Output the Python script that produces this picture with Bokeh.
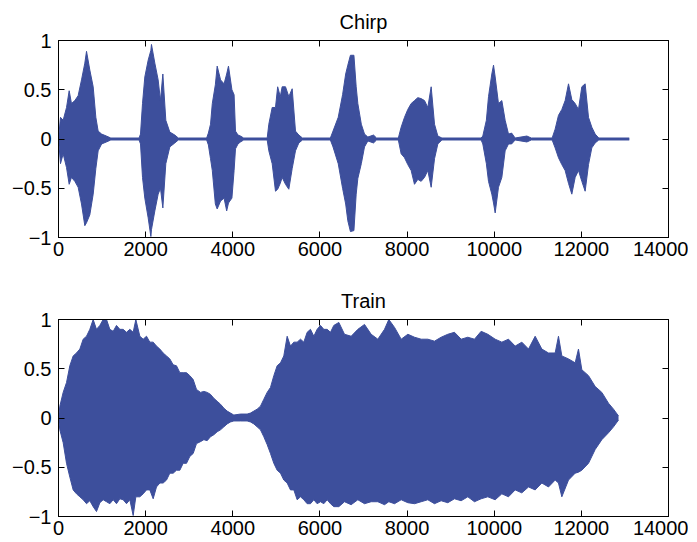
from bokeh.plotting import figure
from bokeh.layouts import column
from bokeh.models import FixedTicker, LinearAxis, Range1d
from bokeh.embed import file_html
from bokeh.resources import INLINE

# ---- data: envelope (upper / lower peak) of each waveform ----
chirp_x = [0, 46, 107, 184, 245, 298, 375, 451, 528, 604, 643, 719, 796, 857, 910, 990, 1100, 1200,
           1850, 1882, 1928, 1981, 2058, 2120, 2134, 2211, 2287, 2340, 2395, 2463, 2555, 2670, 2750,
           3400, 3440, 3489, 3530, 3600, 3642, 3720, 3800, 3860, 3901, 3980, 4030, 4062, 4120, 4177, 4250,
           4790, 4827, 4904, 4980, 5030, 5090, 5133, 5210, 5286, 5363, 5439, 5516, 5600,
           6240, 6300, 6420, 6520, 6591, 6640, 6700, 6780, 6832, 6870, 6950, 7023, 7100, 7230, 7300,
           7800, 7864, 7941, 8017, 8094, 8170, 8247, 8323, 8400, 8476, 8553, 8630, 8706, 8800,
           9700, 9738, 9820, 9869, 9945, 9984, 10022, 10098, 10175, 10251, 10328, 10400, 10480, 10750, 10850,
           11330, 11398, 11475, 11552, 11628, 11705, 11781, 11858, 11934, 12011, 12087, 12164, 12240, 12317,
           12400, 13100]
chirp_upper = [0.0, 0.22, 0.19, 0.32, 0.49, 0.36, 0.39, 0.44, 0.60, 0.77, 0.89, 0.70, 0.53, 0.22, 0.08, 0.05, 0.03, 0.01,
               0.01, 0.05, 0.36, 0.63, 0.80, 0.90, 0.96, 0.77, 0.60, 0.39, 0.66, 0.19, 0.07, 0.04, 0.01,
               0.01, 0.06, 0.15, 0.36, 0.55, 0.74, 0.60, 0.56, 0.66, 0.74, 0.50, 0.45, 0.08, 0.04, 0.03, 0.01,
               0.01, 0.15, 0.32, 0.32, 0.53, 0.43, 0.53, 0.53, 0.43, 0.51, 0.08, 0.04, 0.01,
               0.01, 0.08, 0.22, 0.45, 0.66, 0.75, 0.85, 0.85, 0.53, 0.36, 0.15, 0.05, 0.02, 0.04, 0.01,
               0.01, 0.12, 0.22, 0.30, 0.36, 0.39, 0.42, 0.41, 0.39, 0.32, 0.53, 0.15, 0.03, 0.01,
               0.01, 0.03, 0.19, 0.43, 0.66, 0.75, 0.63, 0.36, 0.39, 0.19, 0.05, 0.06, 0.01, 0.03, 0.01,
               0.01, 0.10, 0.24, 0.30, 0.39, 0.56, 0.40, 0.36, 0.30, 0.53, 0.56, 0.22, 0.12, 0.05,
               0.01, 0.01]
chirp_lower = [0.0, -0.25, -0.15, -0.29, -0.46, -0.39, -0.43, -0.49, -0.66, -0.88, -0.85, -0.77, -0.56, -0.30, -0.12, -0.05, -0.03, -0.01,
               -0.01, -0.05, -0.39, -0.60, -0.80, -0.99, -0.92, -0.73, -0.56, -0.50, -0.70, -0.25, -0.08, -0.04, -0.01,
               -0.01, -0.06, -0.20, -0.32, -0.66, -0.71, -0.63, -0.60, -0.73, -0.65, -0.60, -0.32, -0.10, -0.05, -0.03, -0.01,
               -0.01, -0.12, -0.25, -0.53, -0.51, -0.45, -0.39, -0.46, -0.51, -0.30, -0.12, -0.04, -0.01,
               -0.01, -0.08, -0.25, -0.50, -0.66, -0.83, -0.94, -0.93, -0.56, -0.40, -0.25, -0.08, -0.02, -0.04, -0.01,
               -0.01, -0.15, -0.19, -0.26, -0.32, -0.46, -0.41, -0.43, -0.39, -0.32, -0.49, -0.20, -0.05, -0.01,
               -0.01, -0.05, -0.25, -0.43, -0.56, -0.65, -0.75, -0.49, -0.39, -0.12, -0.05, -0.05, -0.01, -0.03, -0.01,
               -0.01, -0.09, -0.19, -0.26, -0.32, -0.45, -0.56, -0.39, -0.32, -0.43, -0.53, -0.26, -0.09, -0.04,
               -0.01, -0.01]

train_x = [0, 31, 107, 184, 260, 337, 413, 490, 566, 643, 719, 796, 872, 949, 1025, 1102, 1178, 1255, 1331,
           1408, 1484, 1561, 1637, 1714, 1775, 1867, 1943, 2020, 2096, 2173, 2249, 2326, 2402, 2479, 2555,
           2632, 2708, 2785, 2861, 2938, 3014, 3091, 3167, 3259, 3336, 3412, 3488, 3565, 3641, 3718, 3795,
           3871, 3948, 4024, 4177, 4330, 4406, 4483, 4559, 4636, 4712, 4789, 4865, 4942, 5018, 5095, 5171,
           5248, 5324, 5401, 5477, 5554, 5630, 5707, 5783, 5860, 5936, 6013, 6089, 6166, 6242, 6319, 6434,
           6564, 6717, 6870, 7023, 7176, 7329, 7482, 7581, 7712, 7865, 8018, 8171, 8324, 8476, 8629, 8782,
           8935, 9088, 9241, 9394, 9547, 9700, 9853, 10022, 10175, 10328, 10481, 10634, 10787, 10940, 11093,
           11246, 11399, 11475, 11552, 11705, 11858, 11934, 12011, 12164, 12317, 12470, 12623, 12738, 12853]
train_upper = [0.0, 0.12, 0.26, 0.36, 0.53, 0.63, 0.66, 0.70, 0.80, 0.83, 0.90, 1.00, 0.90, 0.94, 1.00, 1.00, 0.90, 0.88, 0.94,
               0.90, 0.90, 0.87, 0.90, 0.87, 1.00, 0.83, 0.80, 0.83, 0.77, 0.77, 0.73, 0.70, 0.66, 0.63, 0.60,
               0.54, 0.53, 0.46, 0.46, 0.46, 0.43, 0.39, 0.29, 0.26, 0.27, 0.26, 0.24, 0.20, 0.17, 0.14, 0.10,
               0.07, 0.05, 0.03, 0.04, 0.04, 0.05, 0.07, 0.09, 0.12, 0.19, 0.26, 0.31, 0.43, 0.53, 0.56, 0.63,
               0.83, 0.73, 0.77, 0.77, 0.80, 0.77, 0.87, 0.90, 0.83, 0.90, 0.94, 0.90, 0.90, 0.87, 0.94, 0.97,
               0.85, 0.83, 0.90, 0.95, 0.85, 0.80, 0.90, 1.00, 0.92, 0.80, 0.85, 0.82, 0.80, 0.80, 0.78, 0.82,
               0.85, 0.87, 0.80, 0.82, 0.80, 0.88, 0.85, 0.80, 0.77, 0.80, 0.73, 0.77, 0.70, 0.83, 0.70,
               0.66, 0.66, 0.83, 0.63, 0.60, 0.56, 0.70, 0.49, 0.43, 0.32, 0.26, 0.15, 0.09, 0.02]
train_lower = [0.0, -0.12, -0.25, -0.46, -0.60, -0.73, -0.77, -0.80, -0.83, -0.87, -0.84, -0.90, -0.95, -0.86, -0.83, -0.85, -0.87, -0.83, -0.87,
               -0.82, -0.83, -0.87, -0.83, -0.99, -0.80, -0.80, -0.77, -0.73, -0.73, -0.82, -0.70, -0.66, -0.66, -0.63, -0.56,
               -0.56, -0.53, -0.53, -0.46, -0.46, -0.39, -0.36, -0.26, -0.24, -0.22, -0.23, -0.19, -0.17, -0.14, -0.12, -0.09,
               -0.06, -0.04, -0.03, -0.03, -0.03, -0.04, -0.06, -0.09, -0.12, -0.19, -0.27, -0.36, -0.46, -0.53, -0.56, -0.63,
               -0.66, -0.73, -0.73, -0.83, -0.80, -0.83, -0.87, -0.87, -0.83, -0.87, -0.85, -0.87, -0.83, -0.87, -0.90, -0.90,
               -0.85, -0.88, -0.83, -0.87, -0.85, -0.85, -0.88, -0.85, -0.87, -0.83, -0.86, -0.87, -0.85, -0.83, -0.87, -0.84,
               -0.86, -0.82, -0.84, -0.80, -0.85, -0.82, -0.80, -0.83, -0.77, -0.80, -0.73, -0.76, -0.70, -0.73, -0.66,
               -0.70, -0.63, -0.66, -0.80, -0.63, -0.56, -0.55, -0.53, -0.46, -0.32, -0.22, -0.15, -0.09, -0.02]

x_ticks = [0, 2000, 4000, 6000, 8000, 10000, 12000, 14000]
y_ticks = [-1, -0.5, 0, 0.5, 1]
y_labels = {-1: "\u22121", -0.5: "\u22120.5", 0: "0", 0.5: "0.5", 1: "1"}

BLUE = "#3D4F9C"
FONT = "Liberation Sans"
FS = "20px"


def style_axis(ax, labels=True, standoff=5):
    ax.axis_line_color = "black"
    ax.major_tick_line_color = "black"
    ax.major_tick_in = 6
    ax.major_tick_out = 0
    ax.minor_tick_line_color = None
    ax.major_label_text_font = FONT
    if labels:
        ax.major_label_text_font_size = FS
        ax.major_label_text_color = "black"
        ax.major_label_standoff = standoff
    else:
        ax.major_label_text_font_size = "1px"
        ax.major_label_text_color = None
        ax.major_label_text_alpha = 0
        ax.major_label_standoff = 0


def make(title, xs, up, lo, height, top_b, bottom_b):
    p = figure(width=688, height=height, x_range=Range1d(0, 14000), y_range=Range1d(-1, 1),
               output_backend="svg", toolbar_location=None,
               min_border_left=58, min_border_right=20,
               min_border_top=top_b, min_border_bottom=bottom_b)
    p.title.text = title
    p.title.align = "center"
    p.title.text_font = FONT
    p.title.text_font_size = FS
    p.title.text_font_style = "normal"
    p.title.text_color = "black"
    p.title.standoff = 16
    p.grid.visible = False
    p.outline_line_color = "black"
    p.outline_line_width = 1
    p.background_fill_color = "white"
    p.border_fill_color = "white"

    p.xaxis.ticker = FixedTicker(ticks=x_ticks)
    p.yaxis.ticker = FixedTicker(ticks=y_ticks)
    p.yaxis.major_label_overrides = y_labels
    style_axis(p.xaxis[0], standoff=4)
    style_axis(p.yaxis[0], standoff=7)

    top = LinearAxis(ticker=FixedTicker(ticks=x_ticks),
                     major_label_overrides={t: "" for t in x_ticks})
    right = LinearAxis(ticker=FixedTicker(ticks=y_ticks),
                       major_label_overrides={t: "" for t in y_ticks})
    style_axis(top, labels=False)
    style_axis(right, labels=False)
    p.add_layout(top, "above")
    p.add_layout(right, "right")

    p.varea(x=xs, y1=lo, y2=up, fill_color=BLUE)
    p.line(xs, up, line_color=BLUE, line_width=1)
    p.line(xs, lo, line_color=BLUE, line_width=1)
    return p


p1 = make("Chirp", chirp_x, chirp_upper, chirp_lower, 278, 39, 41)
p2 = make("Train", train_x, train_upper, train_lower, 264, 41, 26)

layout = column(p1, p2, spacing=0)
open("out.html", "w").write(file_html(layout, INLINE))
